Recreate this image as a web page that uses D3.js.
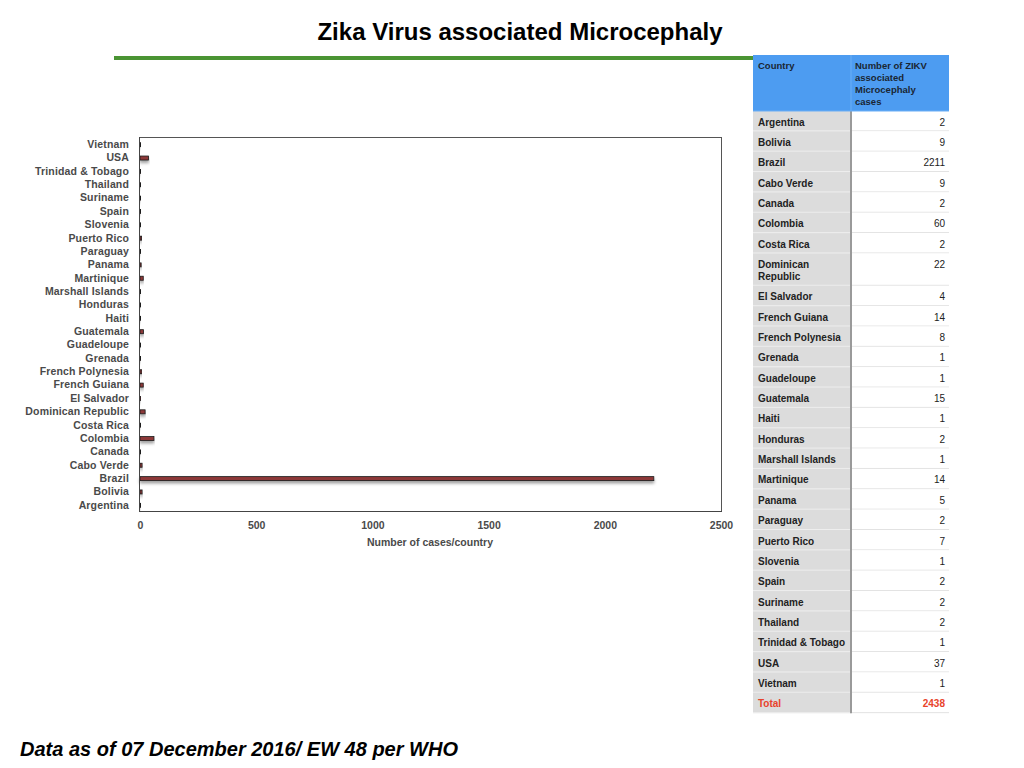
<!DOCTYPE html>
<html>
<head>
<meta charset="utf-8">
<script src="https://cdn.jsdelivr.net/npm/d3@7"></script>
<style>
  body { margin: 0; background: #fff; }
  svg { font-family: "Liberation Sans", Arial, sans-serif; }
</style>
</head>
<body>
<script>
// data
const countries = ["Argentina", "Bolivia", "Brazil", "Cabo Verde", "Canada", "Colombia",
    "Costa Rica", "Dominican Republic", "El Salvador", "French Guiana", "French Polynesia",
    "Grenada", "Guadeloupe", "Guatemala", "Haiti", "Honduras", "Marshall Islands",
    "Martinique", "Panama", "Paraguay", "Puerto Rico", "Slovenia", "Spain", "Suriname",
    "Thailand", "Trinidad & Tobago", "USA", "Vietnam"];
const cases = [2, 9, 2211, 9, 2, 60, 2, 22, 4, 14, 8, 1, 1, 15, 1, 2, 1, 14, 5, 2, 7, 1, 2, 2, 2, 1, 37, 1];
const xTicks = [0, 500, 1000, 1500, 2000, 2500];
const tableHeader = ["Country", "Number of ZIKV associated Microcephaly cases"];
const totalLabel = "Total";
const totalValue = 2438;

const svg = d3.select("body")
    .append("svg")
    .attr("width", 1024)
    .attr("height", 768);

const defs = svg.append("defs");
const shadow = defs.append("filter")
    .attr("id", "barShadow")
    .attr("x", "-5%").attr("y", "-100%")
    .attr("width", "110%").attr("height", "400%");
shadow.append("feDropShadow")
    .attr("dx", 0).attr("dy", 2.5)
    .attr("stdDeviation", 1.4)
    .attr("flood-color", "#000")
    .attr("flood-opacity", 0.38);

// title and green rule
svg.append("text")
    .attr("x", 520)
    .attr("y", 40)
    .attr("text-anchor", "middle")
    .style("font-size", "24px")
    .style("font-weight", "bold")
    .style("fill", "#000")
    .text("Zika Virus associated Microcephaly");

svg.append("rect")
    .attr("x", 114)
    .attr("y", 56)
    .attr("width", 642)
    .attr("height", 4)
    .attr("fill", "#4a9433");

// bar chart
const pLeft = 139, pRight = 721, pTop = 137, pBottom = 511;
const x = d3.scaleLinear().domain([0, 2500]).range([pLeft + 1, pRight]);
const y = d3.scaleBand().domain(countries).range([pBottom + 1, pTop + 1]);

const plot = svg.append("g");

plot.append("rect")
    .attr("x", pLeft + 0.5)
    .attr("y", pTop + 0.5)
    .attr("width", pRight - pLeft)
    .attr("height", pBottom - pTop)
    .attr("fill", "none")
    .attr("stroke", "#555")
    .attr("stroke-width", 1);

plot.selectAll(".bar")
    .data(countries)
    .enter()
    .append("rect")
    .attr("class", "bar")
    .attr("x", x(0))
    .attr("y", (d) => y(d) + y.bandwidth() / 2 - 2)
    .attr("width", (d, i) => Math.max(x(cases[i]) - x(0), 0.6))
    .attr("height", 4)
    .attr("fill", "#8c3737")
    .attr("stroke", "#1b1b1b")
    .attr("stroke-width", 0.8)
    .attr("filter", "url(#barShadow)");

// axis lines drawn a bit darker than the frame
plot.append("line")
    .attr("x1", pLeft + 0.5).attr("x2", pLeft + 0.5)
    .attr("y1", pTop).attr("y2", pBottom + 1)
    .attr("stroke", "#444");
plot.append("line")
    .attr("x1", pLeft).attr("x2", pRight + 1)
    .attr("y1", pBottom + 0.5).attr("y2", pBottom + 0.5)
    .attr("stroke", "#444");

const yAxis = plot.append("g")
    .attr("transform", "translate(" + pLeft + ",0)")
    .call(d3.axisLeft(y).tickSize(0).tickPadding(10));
yAxis.select(".domain").remove();
yAxis.selectAll("text")
    .style("font-family", "Liberation Sans, Arial, sans-serif")
    .style("font-size", "10.5px")
    .style("font-weight", "bold")
    .style("letter-spacing", "0.15px")
    .style("fill", "#4a4a4a");

const xAxis = plot.append("g")
    .attr("transform", "translate(0," + pBottom + ")")
    .call(d3.axisBottom(x).tickValues(xTicks).tickFormat(d3.format("d")).tickSize(0).tickPadding(11));
xAxis.select(".domain").remove();
xAxis.selectAll("text")
    .style("font-family", "Liberation Sans, Arial, sans-serif")
    .style("font-size", "10.5px")
    .style("font-weight", "bold")
    .style("fill", "#4a4a4a");

svg.append("text")
    .attr("x", 430)
    .attr("y", 546)
    .attr("text-anchor", "middle")
    .style("font-size", "10.5px")
    .style("font-weight", "bold")
    .style("fill", "#4a4a4a")
    .text("Number of cases/country");

// table on the right
const tx = 753, tSplit = 851, tRight = 949;
const headerTop = 55, headerBottom = 111;
const rowH = 20.35, lineH = 12;
const table = svg.append("g");

table.append("rect")
    .attr("x", tx).attr("y", headerTop)
    .attr("width", tRight - tx).attr("height", headerBottom - headerTop)
    .attr("fill", "#4d9cf1");
table.append("line")
    .attr("x1", tSplit).attr("x2", tSplit)
    .attr("y1", headerTop).attr("y2", headerBottom)
    .attr("stroke", "#6aaef5").attr("stroke-width", 1);

// header text, wrapped by hand into lines of the right column
const headLines = ["Number of ZIKV", "associated", "Microcephaly", "cases"];
table.append("text")
    .attr("x", tx + 5).attr("y", headerTop + 14)
    .style("font-size", "9.5px").style("font-weight", "bold").style("fill", "#1a2633")
    .text(tableHeader[0]);
const ht = table.append("text")
    .attr("x", tSplit + 4).attr("y", headerTop + 14)
    .style("font-size", "9.5px").style("font-weight", "bold").style("fill", "#1a2633");
headLines.forEach((l, i) => {
    ht.append("tspan").attr("x", tSplit + 4).attr("dy", i === 0 ? 0 : lineH).text(l);
});

// measure names to see which ones wrap in the first column
const meas = svg.append("text").style("font-size", "10px").style("font-weight", "bold");
function wrapName(name) {
    meas.text(name);
    if (meas.node().getComputedTextLength() <= 90) return [name];
    const words = name.split(" ");
    return [words.slice(0, -1).join(" "), words[words.length - 1]];
}

const rows = countries.map((c, i) => ({ name: c, lines: wrapName(c), value: cases[i], total: false }));
rows.push({ name: totalLabel, lines: [totalLabel], value: totalValue, total: true });
meas.remove();

let cy = headerBottom;
rows.forEach((r) => {
    r.y = cy;
    r.h = r.lines.length > 1 ? rowH + 12 : rowH;
    cy += r.h;
});
const tableBottom = cy;

const rowG = table.selectAll(".row")
    .data(rows)
    .enter()
    .append("g")
    .attr("class", "row");

rowG.append("rect")
    .attr("x", tx).attr("y", (d) => d.y)
    .attr("width", tSplit - tx).attr("height", (d) => d.h)
    .attr("fill", "#dcdcdc");
rowG.append("rect")
    .attr("x", tSplit).attr("y", (d) => d.y)
    .attr("width", tRight - tSplit).attr("height", (d) => d.h)
    .attr("fill", "#fff");
rowG.append("line")
    .attr("x1", tSplit).attr("x2", tRight)
    .attr("y1", (d) => d.y + d.h - 0.5).attr("y2", (d) => d.y + d.h - 0.5)
    .attr("stroke", "#e2e2e2");
rowG.append("line")
    .attr("x1", tx).attr("x2", tSplit)
    .attr("y1", (d) => d.y + d.h - 0.5).attr("y2", (d) => d.y + d.h - 0.5)
    .attr("stroke", "#eeeeee");

rowG.append("text")
    .attr("x", tx + 5)
    .attr("y", (d) => d.y + 14.5)
    .style("font-size", "10px")
    .style("font-weight", "bold")
    .style("fill", (d) => (d.total ? "#e8432b" : "#222"))
    .each(function (d) {
        const t = d3.select(this);
        d.lines.forEach((l, i) => {
            t.append("tspan").attr("x", tx + 5).attr("dy", i === 0 ? 0 : lineH).text(l);
        });
    });

rowG.append("text")
    .attr("x", tRight - 4)
    .attr("y", (d) => d.y + 14.5)
    .attr("text-anchor", "end")
    .style("font-size", "10px")
    .style("font-weight", (d) => (d.total ? "bold" : "normal"))
    .style("fill", (d) => (d.total ? "#e8432b" : "#222"))
    .text((d) => d.value);

// column split and header edge
table.append("line")
    .attr("x1", tSplit).attr("x2", tSplit)
    .attr("y1", headerBottom).attr("y2", tableBottom)
    .attr("stroke", "#9a9a9a").attr("stroke-width", 2);
table.append("line")
    .attr("x1", tx).attr("x2", tRight)
    .attr("y1", headerBottom).attr("y2", headerBottom)
    .attr("stroke", "#6aaef5").attr("stroke-width", 1);

// footnote
svg.append("text")
    .attr("x", 20)
    .attr("y", 756)
    .style("font-size", "20px")
    .style("font-weight", "bold")
    .style("font-style", "italic")
    .style("fill", "#000")
    .text("Data as of 07 December 2016/ EW 48 per WHO");
</script>
</body>
</html>
